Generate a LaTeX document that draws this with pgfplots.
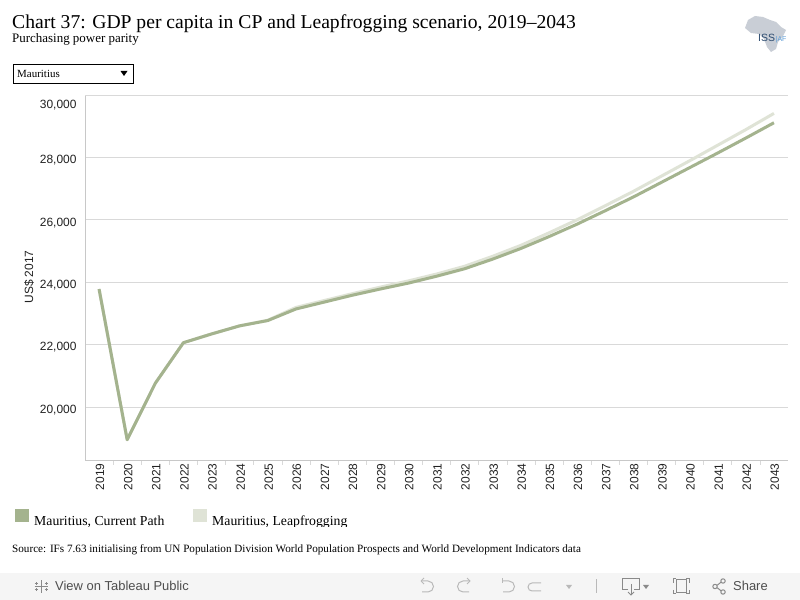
\documentclass[border=0pt]{standalone}
\usepackage{pgfplots}
\pgfplotsset{compat=1.18}
\usepackage{fontspec}
\setmainfont{Liberation Serif}
\newfontfamily\sansf{Liberation Sans}
\definecolor{cpgreen}{HTML}{A4B38E}
\definecolor{lfgreen}{HTML}{DFE3D6}
\definecolor{gridgray}{HTML}{D9D9D9}
\definecolor{axgray}{HTML}{C8C8C8}
\definecolor{txt}{HTML}{222222}
\definecolor{barbg}{HTML}{F5F5F5}
\definecolor{icon}{HTML}{8A8A8A}
\definecolor{issblue}{HTML}{2B4A6F}
\definecolor{aflblue}{HTML}{5B9BD5}
\definecolor{afgray}{HTML}{C9CED6}
\pgfplotstableread{
year cp lf
2019 23780 23780
2020 18950 18950
2021 20760 20760
2022 22060 22060
2023 22340 22340
2024 22600 22600
2025 22770 22780
2026 23140 23190
2027 23360 23410
2028 23580 23630
2029 23780 23840
2030 23970 24040
2031 24190 24260
2032 24430 24510
2033 24740 24830
2034 25080 25180
2035 25460 25580
2036 25860 26000
2037 26290 26450
2038 26730 26910
2039 27200 27400
2040 27670 27890
2041 28140 28390
2042 28620 28890
2043 29110 29410
}\gdpdata
\begin{document}
\begin{tikzpicture}[x=1bp,y=1bp]
\fill[white] (0,0) rectangle (800,600);
% title
\node[anchor=base west,inner sep=0,text=black] at (12,571) {\fontsize{19.7}{22}\selectfont Chart 37: GDP per capita in CP and Leapfrogging scenario, 2019--2043};
\node[anchor=base west,inner sep=0,text=black] at (12,557) {\fontsize{13}{15}\selectfont Purchasing power parity};
% dropdown
\draw[black,line width=1bp] (13.5,535.5) rectangle (133.5,516);
\node[anchor=base west,inner sep=0] at (17,522) {\fontsize{11}{12}\selectfont Mauritius};
\fill[black] (120.5,529) -- (127.5,529) -- (124,524) -- cycle;
% logo
\fill[afgray] (748,580) -- (755,584) -- (763,583) -- (770,580) -- (776,578) -- (781,573) -- (786,570) -- (783,564) -- (778,558) -- (776,551) -- (771,548) -- (767,553) -- (764,561) -- (759,566) -- (751,567) -- (745,572) -- cycle;
\node[anchor=base west,inner sep=0,text=issblue] at (758,558) {\sansf\fontsize{10.5}{12}\selectfont ISS};
\node[anchor=base west,inner sep=0,text=aflblue] at (775.5,558) {\sansf\fontsize{7}{8}\selectfont |AF};
% axis
\begin{axis}[
  at={(85bp,140bp)}, anchor=south west,
  width=703bp, height=365bp, scale only axis,
  xmin=2018.5, xmax=2043.5,
  ymin=18300, ymax=30000,
  axis lines*=left,
  axis line style={axgray,line width=0.8bp},
  xtick={2019,...,2043},
  minor xtick={2019.5,2020.5,...,2042.5},
  major tick length=0pt,
  minor tick length=5bp,
  tick align=outside,
  minor tick style={gridgray,line width=0.6bp},
  scaled ticks=false,
  xticklabel style={rotate=90,anchor=east,font=\sansf\fontsize{12}{14}\selectfont,text=txt,xshift=0bp,yshift=-1bp},
  ytick={20000,22000,...,28000},
  extra y ticks={30000},
  extra y tick style={yticklabel style={yshift=-7bp}},
  yticklabel style={font=\sansf\fontsize{12}{14}\selectfont,text=txt,xshift=-5bp,yshift=-3bp},
  /pgf/number format/assume math mode=true,
  xticklabel={\pgfmathprintnumber[fixed,precision=0,1000 sep={}]{\tick}},
  yticklabel={\pgfmathprintnumber[fixed,precision=0,1000 sep={,}]{\tick}},
  ymajorgrids,
  major grid style={gridgray,line width=0.8bp},
  clip=false,
]
\addplot[lfgreen,line width=3bp,line join=round] table[x=year,y=lf]{\gdpdata};
\addplot[cpgreen,line width=3bp,line join=round] table[x=year,y=cp]{\gdpdata};
\end{axis}
\node[rotate=90,inner sep=0,text=txt] at (29,323) {\sansf\fontsize{12}{14}\selectfont US\$ 2017};
% legend
\fill[cpgreen] (15,91) rectangle (29,77.5);
\fill[lfgreen] (193,91) rectangle (207,77.5);
\begin{scope}
\clip (0,73.5) rectangle (800,100);
\node[anchor=base west,inner sep=0] at (34,74) {\fontsize{13.8}{16}\selectfont Mauritius, Current Path};
\node[anchor=base west,inner sep=0] at (212,74) {\fontsize{13.8}{16}\selectfont Mauritius, Leapfrogging};
\end{scope}
% source
\node[anchor=base west,inner sep=0] at (12,47) {\fontsize{11.2}{13}\selectfont Source: IFs 7.63 initialising from UN Population Division World Population Prospects and World Development Indicators data};
% toolbar
\fill[barbg] (0,0) rectangle (800,27);
\begin{scope}[icon,line width=1bp]
\draw (41,7) -- (41,20); \draw (34.5,13.5) -- (47.5,13.5);
\draw (36,9) -- (36,12); \draw (34.5,10.5) -- (37.5,10.5);
\draw (46,9) -- (46,12); \draw (44.5,10.5) -- (47.5,10.5);
\draw (36,15) -- (36,18); \draw (34.5,16.5) -- (37.5,16.5);
\draw (46,15) -- (46,18); \draw (44.5,16.5) -- (47.5,16.5);
\end{scope}
\node[anchor=base west,inner sep=0,text=txt!80] at (55,9) {\sansf\fontsize{13}{15}\selectfont View on Tableau Public};
\begin{scope}[gray!55,line width=1bp]
\draw (421,19) -- (428,19) arc (90:-90:5.5) -- (422,8);
\draw (421,19) -- (424,22); \draw (421,19) -- (424,16);
\draw (470,19) -- (463,19) arc (90:270:5.5) -- (469,8);
\draw (470,19) -- (467,22); \draw (470,19) -- (467,16);
\draw (502,22) -- (502,17); \draw (502,19) -- (509,19) arc (90:-90:5.5) -- (503,8);
\draw (541,17) -- (532,17) arc (90:270:4) -- (541,9);
\fill (566,15) -- (572,15) -- (569,11) -- cycle;
\draw (596,7) -- (596,21);
\end{scope}
\begin{scope}[icon,line width=1bp]
\draw (628,10) -- (622.5,10) -- (622.5,21) -- (639.5,21) -- (639.5,10) -- (634,10);
\draw (631,16) -- (631,5); \draw (628,8) -- (631,5) -- (634,8);
\fill (643,15) -- (649,15) -- (646,11) -- cycle;
\draw (676,7) rectangle (686,20);
\draw (673,10) -- (673,6) -- (676,6); \draw (686,6) -- (689,6) -- (689,10);
\draw (673,17) -- (673,21) -- (676,21); \draw (686,21) -- (689,21) -- (689,17);
\draw (715,13.5) circle (2.2); \draw (723,19) circle (2.2); \draw (723,8) circle (2.2);
\draw (717,14.6) -- (721,17.8); \draw (717,12.4) -- (721,9.2);
\end{scope}
\node[anchor=base west,inner sep=0,text=txt!80] at (733,9) {\sansf\fontsize{13}{15}\selectfont Share};
\end{tikzpicture}
\end{document}
